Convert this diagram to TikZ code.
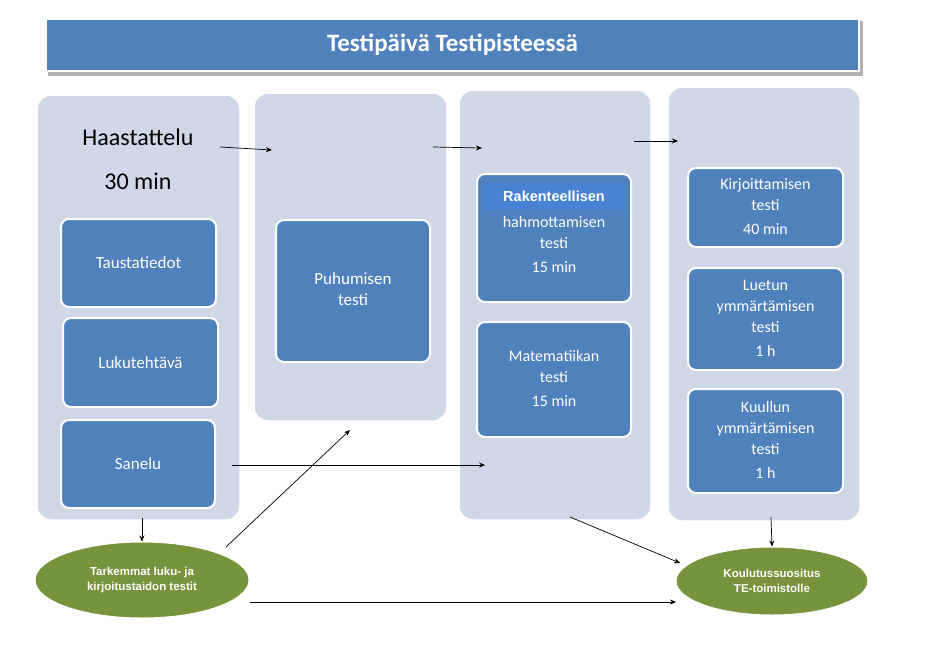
\documentclass[tikz,border=0pt]{standalone}
\usepackage{fontspec}
\setmainfont{Carlito}
\newfontfamily\arialf{Liberation Sans}
\usetikzlibrary{arrows.meta,shapes.geometric}
\definecolor{colbg}{HTML}{D0D8E8}
\definecolor{boxb}{HTML}{4F81BD}
\definecolor{olive}{HTML}{77933C}
\definecolor{rakb}{HTML}{4882D2}
\begin{document}
\begin{tikzpicture}[x=1pt,y=-1pt,
 col/.style={fill=colbg,draw=white,line width=1.5pt,rounded corners=14pt},
 bx/.style={fill=boxb,draw=white,line width=2pt,rounded corners=8pt},
 bt/.style={text=white,font=\fontsize{17}{21}\selectfont,align=center},
 el/.style={ellipse,fill=olive,draw=white,line width=1pt,text=white,font=\arialf\bfseries\fontsize{11.5}{15}\selectfont,align=center,inner sep=0pt},
 ar/.style={-{Stealth[length=6pt,width=5pt]},line width=0.7pt}]
\useasboundingbox (0,0) rectangle (928,645);
% title
\fill[gray!60] (48,21) rectangle (863,76);
\fill[white] (45,17) rectangle (860,72);
\node[fill=boxb,minimum width=811,minimum height=50,inner sep=0pt,text=white,font=\fontsize{25}{30}\selectfont\bfseries] (title) at (452.5,44.5) {Testipäivä Testipisteessä};
% columns
\draw[col] (37,95) rectangle (240,520);
\draw[col] (254,93) rectangle (447,421);
\draw[col] (459,90) rectangle (651,520);
\draw[col] (668,87) rectangle (860,521);
\node[font=\fontsize{24}{28}\selectfont] (haas) at (138,137) {Haastattelu};
\node[font=\fontsize{24}{28}\selectfont] (min30) at (138,181) {30 min};
% boxes
\draw[bx] (61,219) rectangle (216,307); \node[bt] (taus) at (138.5,263) {Taustatiedot};
\draw[bx] (63,318) rectangle (218,407); \node[bt] (luku) at (140.5,362.5) {Lukutehtävä};
\draw[bx] (61,420) rectangle (215,508); \node[bt] (san) at (138,464) {Sanelu};
\draw[bx] (276,220) rectangle (430,362); \node[bt] (puh) at (353,289) {Puhumisen\\testi};
\draw[bx] (477,174) rectangle (631,302);
\fill[rakb] (484,183) rectangle (625,210);
\node[bt,font=\arialf\bfseries\fontsize{14.5}{18}\selectfont] (rak) at (554,196) {Rakenteellisen};
\node[bt,font=\fontsize{16}{21}\selectfont] (hah) at (554,244) {hahmottamisen\\testi\\[3pt]15 min};
\draw[bx] (477,322) rectangle (631,437); \node[bt,font=\fontsize{16}{21}\selectfont] (mat) at (554,378) {Matematiikan\\testi\\[3pt]15 min};
\draw[bx] (688,168) rectangle (843,247); \node[bt,font=\fontsize{16}{21}\selectfont] (kir) at (765.5,207) {Kirjoittamisen\\testi\\[3pt]40 min};
\draw[bx] (688,268) rectangle (843,370); \node[bt,font=\fontsize{16}{21}\selectfont] (lue) at (765.5,318) {Luetun\\ymmärtämisen\\testi\\[3pt]1 h};
\draw[bx] (688,389) rectangle (843,493); \node[bt,font=\fontsize{16}{21}\selectfont] (kuu) at (765.5,440) {Kuullun\\ymmärtämisen\\testi\\[3pt]1 h};
% ellipses
\node[el,minimum width=214,minimum height=76] (tark) at (142,580) {Tarkemmat luku- ja\\kirjoitustaidon testit};
\node[el,minimum width=192,minimum height=68] (koul) at (772,581) {Koulutussuositus\\TE-toimistolle};
% arrows
\coordinate (a1) at (220,147); \coordinate (a1e) at (272,150);
\coordinate (a2) at (433,147); \coordinate (a2e) at (482,148);
\coordinate (a3) at (634,141); \coordinate (a3e) at (678,141);
\coordinate (s1) at (232,465); \coordinate (s1e) at (485,465);
\coordinate (t1) at (226,547); \coordinate (t1e) at (350,430);
\coordinate (c1) at (142,518);
\coordinate (m1) at (570,517); \coordinate (m1e) at (680,563);
\coordinate (k1) at (771,517);
\coordinate (b1) at (250,602); \coordinate (b1e) at (676,602);
\draw[ar] (a1) -- (a1e);
\draw[ar] (a2) -- (a2e);
\draw[ar] (a3) -- (a3e);
\draw[ar] (s1) -- (s1e);
\draw[ar] (t1) -- (t1e);
\draw[ar] (c1) -- (tark.north);
\draw[ar] (m1) -- (m1e);
\draw[ar] (k1) -- (koul.north);
\draw[ar] (b1) -- (b1e);
\end{tikzpicture}
\end{document}
